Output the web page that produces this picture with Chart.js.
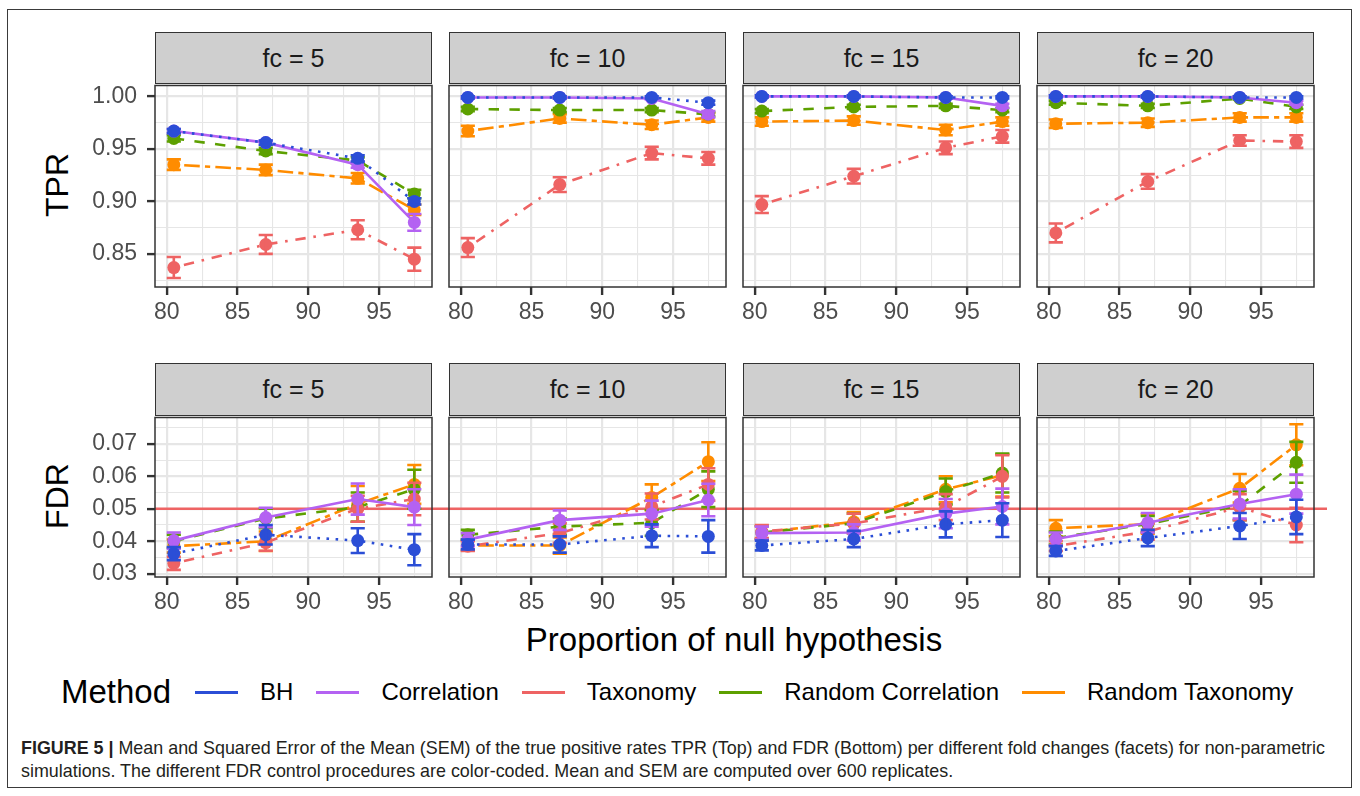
<!DOCTYPE html>
<html>
<head>
<meta charset="utf-8">
<script src="https://cdn.jsdelivr.net/npm/chart.js@4.4.1/dist/chart.umd.min.js"></script>
<style>
  body { margin: 0; background: #fff; font-family: "Liberation Sans", Arial, Helvetica, sans-serif; }
  #fig { position: relative; width: 1360px; height: 796px; overflow: hidden; background: #fff; }
  #frame { position: absolute; left: 7px; top: 9px; width: 1345px; height: 779px; border: 1px solid #3a3a3a; box-sizing: border-box; }
  canvas { position: absolute; }
  .strip { position: absolute; background: #cfcfcf; border: 1.5px solid #333; box-sizing: border-box;
           display: flex; align-items: center; justify-content: center; font-size: 25px; color: #1a1a1a; }
  .ytitle { position: absolute; font-size: 32px; color: #000; white-space: nowrap;
            transform: translate(-50%, -50%) rotate(-90deg); }
  #xtitle { position: absolute; left: 734px; top: 640px; font-size: 33px; color: #000; white-space: nowrap;
            transform: translate(-50%, -50%); }
  #legend { position: absolute; left: 61px; top: 692px; transform: translateY(-50%); display: flex; align-items: center; white-space: nowrap; }
  #legend .ttl { font-size: 33px; margin-right: 24px; }
  #legend .key { width: 43px; height: 3px; margin-right: 22px; }
  #legend .lab { font-size: 24px; margin-right: 23px; color: #000; }
  #cap { position: absolute; left: 21px; top: 737px; font-size: 17.9px; line-height: 23px; color: #231f20; white-space: nowrap; }
</style>
</head>
<body>
<div id="fig">
  <div id="frame"></div>
  <div class="ytitle" style="left:57px;top:185px">TPR</div>
  <div class="ytitle" style="left:57px;top:496px">FDR</div>
  <div id="xtitle">Proportion of null hypothesis</div>
  <div id="legend"><span class="ttl">Method</span></div>
  <div id="cap"><b>FIGURE 5 |</b> Mean and Squared Error of the Mean (SEM) of the true positive rates TPR (Top) and FDR (Bottom) per different fold changes (facets) for non-parametric<br>simulations. The different FDR control procedures are color-coded. Mean and SEM are computed over 600 replicates.</div>
</div>
<script>
// ---- data ----
const xVals = [80.5, 87.0, 93.5, 97.5];
const facets = ["fc = 5", "fc = 10", "fc = 15", "fc = 20"];
const methods = ["BH", "Correlation", "Taxonomy", "Random Correlation", "Random Taxonomy"];

const xMajor = [80, 85, 90, 95];
const xMinor = [82.5, 87.5, 92.5, 97.5];
const xLabels = ["80", "85", "90", "95"];
const tprMajor = [0.85, 0.90, 0.95, 1.00];
const tprMinor = [0.825, 0.875, 0.925, 0.975];
const tprLabels = ["0.85", "0.90", "0.95", "1.00"];
const fdrMajor = [0.03, 0.04, 0.05, 0.06, 0.07];
const fdrMinor = [0.035, 0.045, 0.055, 0.065, 0.075];
const fdrLabels = ["0.03", "0.04", "0.05", "0.06", "0.07"];
const fdrTarget = 0.05;

// TPR means, one row per facet (fc = 5, 10, 15, 20)
const tprBH   = [[0.967, 0.956, 0.941, 0.900], [0.999, 0.999, 0.999, 0.994], [1.000, 1.000, 0.999, 0.999], [1.000, 1.000, 0.999, 0.999]];
const tprCorr = [[0.967, 0.956, 0.935, 0.880], [0.999, 0.999, 0.998, 0.983], [1.000, 1.000, 0.999, 0.991], [1.000, 1.000, 0.999, 0.994]];
const tprTax  = [[0.837, 0.859, 0.873, 0.845], [0.856, 0.916, 0.946, 0.941], [0.897, 0.924, 0.951, 0.962], [0.870, 0.919, 0.958, 0.957]];
const tprRC   = [[0.960, 0.948, 0.939, 0.907], [0.988, 0.987, 0.987, 0.983], [0.986, 0.990, 0.991, 0.987], [0.994, 0.991, 0.998, 0.990]];
const tprRT   = [[0.935, 0.930, 0.922, 0.892], [0.967, 0.979, 0.973, 0.980], [0.976, 0.977, 0.968, 0.976], [0.974, 0.975, 0.980, 0.980]];
// TPR SEM
const tprSemBH   = [[0.002, 0.002, 0.003, 0.003], [0.001, 0.001, 0.001, 0.002], [0.001, 0.001, 0.001, 0.001], [0.001, 0.001, 0.001, 0.001]];
const tprSemCorr = [[0.002, 0.002, 0.003, 0.008], [0.001, 0.001, 0.001, 0.003], [0.001, 0.001, 0.001, 0.002], [0.001, 0.001, 0.001, 0.002]];
const tprSemTax  = [[0.010, 0.009, 0.009, 0.011], [0.009, 0.007, 0.006, 0.006], [0.008, 0.007, 0.006, 0.006], [0.009, 0.007, 0.005, 0.006]];
const tprSemRC   = [[0.003, 0.003, 0.003, 0.004], [0.002, 0.002, 0.002, 0.002], [0.002, 0.002, 0.002, 0.002], [0.002, 0.002, 0.001, 0.002]];
const tprSemRT   = [[0.005, 0.005, 0.005, 0.005], [0.005, 0.004, 0.004, 0.004], [0.004, 0.004, 0.005, 0.004], [0.004, 0.004, 0.004, 0.004]];

// FDR means
const fdrBH   = [[0.0362, 0.0420, 0.0402, 0.0374], [0.0390, 0.0390, 0.0417, 0.0415], [0.0387, 0.0407, 0.0452, 0.0465], [0.0370, 0.0410, 0.0447, 0.0475]];
const fdrCorr = [[0.0402, 0.0473, 0.0530, 0.0505], [0.0405, 0.0465, 0.0485, 0.0527], [0.0425, 0.0427, 0.0485, 0.0507], [0.0407, 0.0457, 0.0515, 0.0545]];
const fdrTax  = [[0.0332, 0.0396, 0.0500, 0.0530], [0.0385, 0.0425, 0.0507, 0.0575], [0.0430, 0.0455, 0.0505, 0.0600], [0.0385, 0.0430, 0.0505, 0.0450]];
const fdrRC   = [[0.0400, 0.0470, 0.0505, 0.0560], [0.0420, 0.0445, 0.0457, 0.0560], [0.0427, 0.0455, 0.0553, 0.0610], [0.0410, 0.0453, 0.0510, 0.0643]];
const fdrRT   = [[0.0385, 0.0400, 0.0515, 0.0575], [0.0387, 0.0387, 0.0535, 0.0645], [0.0427, 0.0460, 0.0560, 0.0603], [0.0440, 0.0453, 0.0563, 0.0697]];
// FDR SEM
const fdrSemBH   = [[0.0020, 0.0030, 0.0038, 0.0048], [0.0015, 0.0025, 0.0035, 0.0050], [0.0015, 0.0025, 0.0040, 0.0052], [0.0015, 0.0025, 0.0040, 0.0053]];
const fdrSemCorr = [[0.0025, 0.0030, 0.0048, 0.0055], [0.0020, 0.0030, 0.0040, 0.0050], [0.0020, 0.0025, 0.0045, 0.0055], [0.0020, 0.0030, 0.0045, 0.0060]];
const fdrSemTax  = [[0.0020, 0.0025, 0.0040, 0.0050], [0.0015, 0.0030, 0.0040, 0.0050], [0.0020, 0.0030, 0.0040, 0.0065], [0.0015, 0.0025, 0.0040, 0.0053]];
const fdrSemRC   = [[0.0020, 0.0030, 0.0045, 0.0060], [0.0015, 0.0025, 0.0040, 0.0055], [0.0020, 0.0030, 0.0040, 0.0060], [0.0020, 0.0025, 0.0045, 0.0063]];
const fdrSemRT   = [[0.0020, 0.0030, 0.0055, 0.0060], [0.0015, 0.0025, 0.0040, 0.0060], [0.0020, 0.0030, 0.0040, 0.0065], [0.0025, 0.0030, 0.0044, 0.0063]];

// ---- styles ----
const colors = ["#2b4ed6", "#b462f2", "#ee6363", "#5da000", "#ff8c00"];
const dashes = [[2.6, 6.5], [], [2.6, 7.8, 10.4, 7.8], [10.4, 10.4], [5.2, 5.2, 15.6, 5.2]];
const FONT = '"Liberation Sans", Arial, Helvetica, sans-serif';
Chart.defaults.font.family = FONT;

const PL = [155, 449, 743, 1037];   // panel left edges
const PW = 277;                      // panel width
const ROWS = [
  { stripTop: 32, top: 83, bottom: 287, major: tprMajor, minor: tprMinor, labels: tprLabels, min: 0.8185, max: 1.0104,
    means: [tprBH, tprCorr, tprTax, tprRC, tprRT], sems: [tprSemBH, tprSemCorr, tprSemTax, tprSemRC, tprSemRT], hline: null },
  { stripTop: 363, top: 415, bottom: 577, major: fdrMajor, minor: fdrMinor, labels: fdrLabels, min: 0.029, max: 0.0781,
    means: [fdrBH, fdrCorr, fdrTax, fdrRC, fdrRT], sems: [fdrSemBH, fdrSemCorr, fdrSemTax, fdrSemRC, fdrSemRT], hline: fdrTarget }
];
const X_MIN = 79.17, X_MAX = 98.75, CAP = 0.5;

function tickList(major, minor) {
  return major.map(v => ({ value: v, mj: true })).concat(minor.map(v => ({ value: v, mj: false })))
    .sort((a, b) => a.value - b.value);
}
function labelFor(major, labels) {
  return (v, i, ticks) => {
    if (!ticks[i].mj) return "";
    const k = major.findIndex(m => Math.abs(m - v) < 1e-9);
    return k >= 0 ? labels[k] : "";
  };
}
function noPad(s) { s.paddingLeft = 0; s.paddingRight = 0; s.paddingTop = 0; s.paddingBottom = 0; }

const panelPlugin = {
  id: "panel",
  beforeDraw(chart) {
    const a = chart.chartArea, c = chart.ctx;
    c.save(); c.fillStyle = "#fff"; c.fillRect(a.left, a.top, a.width, a.height); c.restore();
  },
  beforeDatasetsDraw(chart, args, opts) {
    if (opts.hline == null) return;
    const a = chart.chartArea, c = chart.ctx, y = chart.scales.y.getPixelForValue(opts.hline);
    c.save(); c.strokeStyle = "#ee6363"; c.lineWidth = 2.6;
    c.beginPath(); c.moveTo(a.left, y); c.lineTo(a.right + opts.extend, y); c.stroke(); c.restore();
  },
  afterDatasetDraw(chart, args) {
    const ds = chart.data.datasets[args.index];
    if (!ds.sem) return;
    const xs = chart.scales.x, ys = chart.scales.y, c = chart.ctx;
    c.save(); c.strokeStyle = ds.borderColor; c.lineWidth = 2.6; c.setLineDash([]);
    c.beginPath();
    ds.data.forEach((p, i) => {
      const x = xs.getPixelForValue(p.x), x0 = xs.getPixelForValue(p.x - CAP), x1 = xs.getPixelForValue(p.x + CAP);
      const lo = ys.getPixelForValue(p.y - ds.sem[i]), hi = ys.getPixelForValue(p.y + ds.sem[i]);
      c.moveTo(x, lo); c.lineTo(x, hi);
      c.moveTo(x0, lo); c.lineTo(x1, lo);
      c.moveTo(x0, hi); c.lineTo(x1, hi);
    });
    c.stroke(); c.restore();
  },
  afterDatasetsDraw(chart) {
    const a = chart.chartArea, c = chart.ctx;
    c.save(); c.strokeStyle = "#333"; c.lineWidth = 1.5;
    c.strokeRect(a.left, a.top, a.width, a.height); c.restore();
  }
};

const fig = document.getElementById("fig");

function makePanel(row, col) {
  const r = ROWS[row];
  const yW = col === 0 ? 80 : 0;
  const L = col === 0 ? 80 : 20, R = 20, T = 4, B = 45;
  const h = r.bottom - r.top;
  const cv = document.createElement("canvas");
  cv.width = L + PW + R; cv.height = T + h + B;
  cv.style.left = (PL[col] - L) + "px"; cv.style.top = (r.top - T) + "px";
  fig.appendChild(cv);

  const strip = document.createElement("div");
  strip.className = "strip";
  strip.style.left = PL[col] + "px"; strip.style.top = r.stripTop + "px";
  strip.style.width = PW + "px"; strip.style.height = (r.top - r.stripTop + 1) + "px";
  strip.textContent = facets[col];
  fig.appendChild(strip);

  const datasets = methods.map((m, k) => ({
    label: m,
    data: xVals.map((x, i) => ({ x: x, y: r.means[k][col][i] })),
    sem: r.sems[k][col],
    borderColor: colors[k], backgroundColor: colors[k],
    pointBackgroundColor: colors[k], pointBorderColor: colors[k],
    borderDash: dashes[k]
  }));
  const gap = col < 3 ? PL[col + 1] - (PL[col] + PW) : 13;

  new Chart(cv, {
    type: "line",
    data: { datasets },
    plugins: [panelPlugin],
    options: {
      responsive: false, animation: false, events: [],
      layout: { padding: { left: L - yW, right: R, top: T, bottom: 0 } },
      elements: {
        point: { radius: 6.5, hoverRadius: 6.5, borderWidth: 0 },
        line: { borderWidth: 2.6, tension: 0, borderCapStyle: "butt", fill: false }
      },
      plugins: { legend: { display: false }, tooltip: { enabled: false }, panel: { hline: r.hline, extend: gap } },
      scales: {
        x: {
          type: "linear", min: X_MIN, max: X_MAX,
          afterBuildTicks: s => { s.ticks = tickList(xMajor, xMinor); },
          afterFit: s => { s.height = B; noPad(s); },
          border: { display: false },
          grid: {
            color: "#e6e6e6",
            lineWidth: c => (c.tick && c.tick.mj ? 2.2 : 1.1),
            tickColor: c => (c.tick && c.tick.mj ? "#333" : "rgba(0,0,0,0)"),
            tickWidth: 2.4, tickLength: 8
          },
          ticks: { callback: labelFor(xMajor, xLabels), autoSkip: false, maxRotation: 0, padding: 4,
                   color: "#4d4d4d", font: { size: 23 } }
        },
        y: {
          type: "linear", min: r.min, max: r.max,
          afterBuildTicks: s => { s.ticks = tickList(r.major, r.minor); },
          afterFit: s => { s.width = yW; noPad(s); },
          border: { display: false },
          grid: {
            color: "#e6e6e6",
            lineWidth: c => (c.tick && c.tick.mj ? 2.2 : 1.1),
            tickColor: c => (c.tick && c.tick.mj ? "#333" : "rgba(0,0,0,0)"),
            tickWidth: 2.4, tickLength: 8, drawTicks: col === 0
          },
          ticks: { display: col === 0, callback: labelFor(r.major, r.labels), autoSkip: false, padding: 10,
                   color: "#4d4d4d", font: { size: 23 } }
        }
      }
    }
  });
}

for (let row = 0; row < 2; row++) for (let col = 0; col < 4; col++) makePanel(row, col);

// legend
const leg = document.getElementById("legend");
methods.forEach((m, k) => {
  const key = document.createElement("span"); key.className = "key"; key.style.background = colors[k];
  const lab = document.createElement("span"); lab.className = "lab"; lab.textContent = m;
  leg.appendChild(key); leg.appendChild(lab);
});
</script>
</body>
</html>
